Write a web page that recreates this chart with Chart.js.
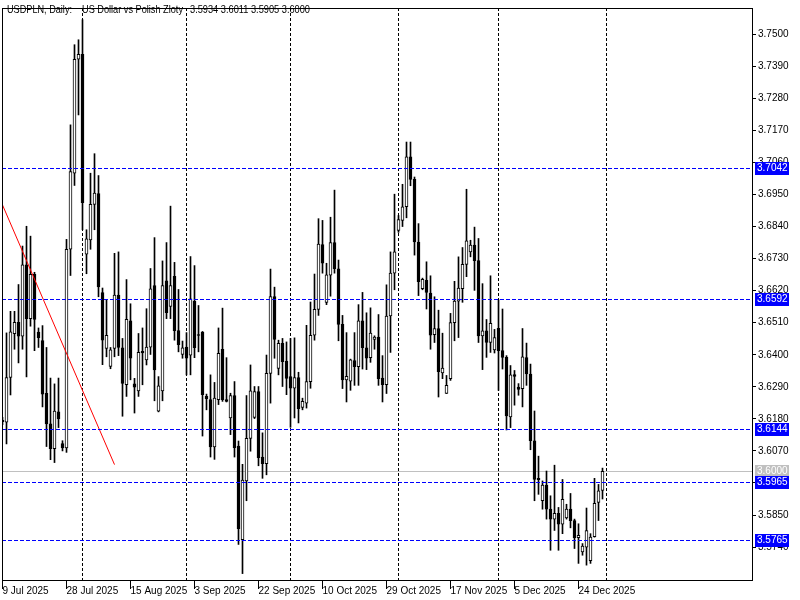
<!DOCTYPE html>
<html>
<head>
<meta charset="utf-8">
<script src="https://cdn.jsdelivr.net/npm/chart.js@4.4.1/dist/chart.umd.min.js"></script>
<style>
  html, body { margin: 0; padding: 0; background: #fff; }
</style>
</head>
<body>
<canvas id="usdplnChart" width="800" height="600"></canvas>
<script>
// Daily bars, index 0 = 9 Jul 2025 ... 150 = 31 Dec 2025
const opens = [
  3.6175, 3.6169, 3.6322, 3.6472, 3.6511, 3.6464, 3.6709, 3.6524, 3.6676, 3.6478,
  3.6449, 3.6268, 3.6163, 3.6078, 3.6204, 3.6095, 3.6080, 3.6762, 3.7023, 3.7414,
  3.7431, 3.6745, 3.6794, 3.6916, 3.6953, 3.6613, 3.6422, 3.6360, 3.6422, 3.6605,
  3.6424, 3.6297, 3.6516, 3.6300, 3.6276, 3.6412, 3.6382, 3.6426, 3.6637, 3.6206,
  3.6276, 3.6654, 3.6566, 3.6669, 3.6483, 3.6401, 3.6426, 3.6399, 3.6583, 3.6468,
  3.6478, 3.6257, 3.6246, 3.6084, 3.6246, 3.6419, 3.6246, 3.6183, 3.6260, 3.6087,
  3.5765, 3.5967, 3.6113, 3.6185, 3.6274, 3.6049, 3.6026, 3.6336, 3.6600, 3.6353,
  3.6439, 3.6378, 3.6325, 3.6285, 3.6322, 3.6219, 3.6234, 3.6308, 3.6467, 3.6556,
  3.6778, 3.6580, 3.6673, 3.6785, 3.6695, 3.6504, 3.6314, 3.6309, 3.6380, 3.6359,
  3.6516, 3.6424, 3.6390, 3.6453, 3.6461, 3.6320, 3.6297, 3.6533, 3.6680, 3.6827,
  3.6861, 3.6908, 3.7079, 3.7002, 3.6787, 3.6627, 3.6655, 3.6612, 3.6469, 3.6490,
  3.6338, 3.6267, 3.6318, 3.6510, 3.6584, 3.6627, 3.6710, 3.6753, 3.6776, 3.6723,
  3.6465, 3.6482, 3.6442, 3.6417, 3.6491, 3.6414, 3.6391, 3.6187, 3.6332, 3.6289,
  3.6284, 3.6390, 3.6334, 3.6105, 3.5976, 3.5899, 3.5953, 3.5870, 3.5836, 3.5856,
  3.5819, 3.5840, 3.5870, 3.5831, 3.5772, 3.5723, 3.5740, 3.5693, 3.5776, 3.5893,
  3.5934
];
const highs = [
  3.6185, 3.6475, 3.6549, 3.6549, 3.6641, 3.6773, 3.6841, 3.6807, 3.6683, 3.6492,
  3.6500, 3.6425, 3.6320, 3.6300, 3.6320, 3.6105, 3.6796, 3.7189, 3.7464, 3.7481,
  3.7550, 3.6829, 3.7023, 3.7090, 3.7015, 3.6629, 3.6588, 3.6425, 3.6748, 3.6753,
  3.6456, 3.6658, 3.6575, 3.6319, 3.6473, 3.6492, 3.6558, 3.6696, 3.6802, 3.6325,
  3.6722, 3.6785, 3.6910, 3.6717, 3.6624, 3.6447, 3.6476, 3.6737, 3.6706, 3.6569,
  3.6480, 3.6265, 3.6331, 3.6305, 3.6492, 3.6560, 3.6390, 3.6268, 3.6308, 3.6104,
  3.6024, 3.6260, 3.6365, 3.6291, 3.6291, 3.6132, 3.6399, 3.6694, 3.6632, 3.6450,
  3.6456, 3.6444, 3.6456, 3.6458, 3.6340, 3.6251, 3.6501, 3.6581, 3.6677, 3.6867,
  3.6861, 3.6714, 3.6872, 3.6965, 3.6725, 3.6535, 3.6476, 3.6385, 3.6476, 3.6572,
  3.6614, 3.6544, 3.6561, 3.6465, 3.6538, 3.6397, 3.6640, 3.6753, 3.6951, 3.6878,
  3.6985, 3.7130, 3.7130, 3.7010, 3.6850, 3.6663, 3.6719, 3.6671, 3.6599, 3.6553,
  3.6474, 3.6329, 3.6542, 3.6652, 3.6736, 3.6768, 3.6968, 3.6793, 3.6838, 3.6799,
  3.6644, 3.6521, 3.6671, 3.6487, 3.6589, 3.6557, 3.6397, 3.6363, 3.6346, 3.6301,
  3.6490, 3.6440, 3.6368, 3.6207, 3.6052, 3.5967, 3.6001, 3.5916, 3.6021, 3.5876,
  3.5972, 3.5887, 3.5924, 3.5836, 3.5820, 3.5752, 3.5874, 3.5786, 3.5976, 3.5955,
  3.6011
];
const lows = [
  3.6160, 3.6094, 3.6262, 3.6419, 3.6372, 3.6419, 3.6324, 3.6498, 3.6414, 3.6425,
  3.6221, 3.6085, 3.6040, 3.6030, 3.6150, 3.6070, 3.6065, 3.6672, 3.6981, 3.7223,
  3.6829, 3.6678, 3.6762, 3.6829, 3.6599, 3.6366, 3.6393, 3.6352, 3.6393, 3.6397,
  3.6189, 3.6257, 3.6314, 3.6200, 3.6257, 3.6297, 3.6365, 3.6401, 3.6242, 3.6204,
  3.6242, 3.6524, 3.6524, 3.6450, 3.6410, 3.6388, 3.6331, 3.6331, 3.6390, 3.6410,
  3.6121, 3.6211, 3.6049, 3.6041, 3.6229, 3.6240, 3.6238, 3.6126, 3.6049, 3.5749,
  3.5649, 3.5899, 3.6069, 3.6181, 3.6019, 3.5976, 3.5988, 3.6234, 3.6388, 3.6331,
  3.6291, 3.6263, 3.6151, 3.6183, 3.6166, 3.6211, 3.6217, 3.6285, 3.6450, 3.6535,
  3.6680, 3.6572, 3.6601, 3.6680, 3.6448, 3.6284, 3.6238, 3.6278, 3.6295, 3.6295,
  3.6351, 3.6349, 3.6374, 3.6419, 3.6295, 3.6238, 3.6267, 3.6408, 3.6623, 3.6820,
  3.6840, 3.6870, 3.6980, 3.6742, 3.6603, 3.6623, 3.6557, 3.6419, 3.6442, 3.6255,
  3.6318, 3.6267, 3.6312, 3.6448, 3.6459, 3.6580, 3.6668, 3.6736, 3.6621, 3.6442,
  3.6349, 3.6391, 3.6408, 3.6406, 3.6278, 3.6351, 3.6142, 3.6150, 3.6227, 3.6261,
  3.6221, 3.6295, 3.6074, 3.5899, 3.5921, 3.5870, 3.5836, 3.5729, 3.5797, 3.5729,
  3.5786, 3.5836, 3.5806, 3.5735, 3.5684, 3.5712, 3.5678, 3.5684, 3.5774, 3.5831,
  3.5905
];
const closes = [
  3.6170, 3.6322, 3.6479, 3.6511, 3.6464, 3.6709, 3.6524, 3.6676, 3.6521, 3.6459,
  3.6265, 3.6163, 3.6078, 3.6207, 3.6180, 3.6080, 3.6762, 3.7029, 3.7414, 3.7431,
  3.6922, 3.6798, 3.6916, 3.6955, 3.6633, 3.6450, 3.6467, 3.6417, 3.6605, 3.6425,
  3.6302, 3.6522, 3.6388, 3.6289, 3.6408, 3.6406, 3.6426, 3.6626, 3.6348, 3.6293,
  3.6637, 3.6544, 3.6637, 3.6483, 3.6435, 3.6424, 3.6388, 3.6592, 3.6424, 3.6466,
  3.6263, 3.6249, 3.6084, 3.6251, 3.6405, 3.6246, 3.6240, 3.6260, 3.6081, 3.5803,
  3.5970, 3.6113, 3.6276, 3.6274, 3.6047, 3.6026, 3.6336, 3.6600, 3.6453, 3.6439,
  3.6376, 3.6319, 3.6285, 3.6322, 3.6215, 3.6240, 3.6308, 3.6467, 3.6556, 3.6780,
  3.6714, 3.6674, 3.6785, 3.6695, 3.6504, 3.6314, 3.6326, 3.6383, 3.6359, 3.6516,
  3.6424, 3.6388, 3.6474, 3.6461, 3.6318, 3.6297, 3.6533, 3.6680, 3.6753, 3.6864,
  3.6908, 3.7079, 3.7002, 3.6787, 3.6651, 3.6659, 3.6614, 3.6467, 3.6490, 3.6342,
  3.6354, 3.6295, 3.6510, 3.6584, 3.6629, 3.6710, 3.6791, 3.6776, 3.6723, 3.6465,
  3.6482, 3.6442, 3.6508, 3.6459, 3.6414, 3.6391, 3.6190, 3.6331, 3.6326, 3.6281,
  3.6393, 3.6334, 3.6105, 3.5972, 3.5971, 3.5953, 3.5870, 3.5836, 3.5856, 3.5819,
  3.5904, 3.5870, 3.5831, 3.5772, 3.5780, 3.5743, 3.5797, 3.5774, 3.5890, 3.5933,
  3.6000
];

// price axis
const yTicks = [3.7500, 3.7390, 3.7280, 3.7170, 3.7060, 3.6950, 3.6840, 3.6730, 3.6620,
                3.6510, 3.6400, 3.6290, 3.6180, 3.6070, 3.5960, 3.5850, 3.5740];
const yMin = 3.5627;
const yMax = 3.7590;

// time axis
const xTickIdx = [0, 16, 32, 48, 64, 80, 96, 112, 128, 144];
const xTickLabels = ['9 Jul 2025', '28 Jul 2025', '15 Aug 2025', '3 Sep 2025', '22 Sep 2025',
                     '10 Oct 2025', '29 Oct 2025', '17 Nov 2025', '5 Dec 2025', '24 Dec 2025'];
const monthStarts = [20, 46, 72, 99, 124, 151]; // 1 Aug, 1 Sep, 1 Oct, 2 Nov, 1 Dec, 1 Jan

// drawn objects
const levels = [3.7042, 3.6592, 3.6144, 3.5965, 3.5765];
const bidLevel = 3.6000;
const trendX = [0, 28];
const trendY = [3.6914, 3.6023];

const FONT = '"Liberation Sans", Arial, sans-serif';
const BLUE = '#0000ff';
const GREY = '#c0c0c0';

const idx = opens.map((_, i) => i);

// squeeze a text run into the width it takes in the terminal font
function fitText(ctx, str, x, y, w) {
    const m = ctx.measureText(str).width;
    const k = Math.min(1, w / m);
    ctx.save();
    ctx.translate(x, y);
    ctx.scale(k, 1);
    ctx.fillText(str, 0, 0);
    ctx.restore();
}

const mtOverlay = {
    id: 'mtOverlay',
    beforeDatasetsDraw(chart) {
        const { ctx, chartArea: a, scales: { x, y } } = chart;
        ctx.save();
        ctx.lineWidth = 1;
        // month separators
        ctx.strokeStyle = '#000';
        ctx.setLineDash([3, 2]);
        monthStarts.forEach(m => {
            const px = Math.round(x.getPixelForValue(m) - 0.5) + 0.5;
            ctx.beginPath();
            ctx.moveTo(px, a.top);
            ctx.lineTo(px, a.bottom);
            ctx.stroke();
        });
        // bid line
        ctx.setLineDash([]);
        ctx.strokeStyle = GREY;
        const by = Math.round(y.getPixelForValue(bidLevel)) + 0.5;
        ctx.beginPath();
        ctx.moveTo(a.left, by);
        ctx.lineTo(a.right, by);
        ctx.stroke();
        ctx.restore();
    },
    afterDatasetsDraw(chart) {
        const { ctx, chartArea: a, scales: { y } } = chart;
        ctx.save();
        ctx.lineWidth = 1;
        ctx.strokeStyle = BLUE;
        ctx.setLineDash([4, 2]);
        levels.forEach(v => {
            const py = Math.round(y.getPixelForValue(v)) + 0.5;
            ctx.beginPath();
            ctx.moveTo(a.left, py);
            ctx.lineTo(a.right, py);
            ctx.stroke();
        });
        ctx.restore();
    },
    afterDraw(chart) {
        const { ctx, chartArea: a, scales: { y } } = chart;
        ctx.save();
        // frame
        ctx.strokeStyle = '#000';
        ctx.lineWidth = 1;
        ctx.strokeRect(a.left + 0.5, a.top + 0.5, a.right - a.left, a.bottom - a.top);

        // price boxes on the axis
        ctx.font = '10px ' + FONT;
        ctx.textBaseline = 'middle';
        const box = (v, col) => {
            const py = Math.round(y.getPixelForValue(v));
            ctx.fillStyle = col;
            ctx.fillRect(a.right + 3, py - 6, 34, 13);
            ctx.fillStyle = '#fff';
            ctx.fillText(v.toFixed(4), a.right + 5, py + 0.5);
        };
        box(bidLevel, GREY);
        levels.forEach(v => box(v, BLUE));

        // header
        const last = opens.length - 1;
        const ohlc = [opens[last], highs[last], lows[last], closes[last]].map(v => v.toFixed(4)).join(' ');
        ctx.fillStyle = '#000';
        ctx.font = '11px ' + FONT;
        fitText(ctx, 'USDPLN, Daily:', 7, 10, 65);
        fitText(ctx, 'US Dollar vs Polish Zloty', 82, 10, 101);
        fitText(ctx, ohlc, 190, 10, 120);
        ctx.restore();
    }
};

const chart = new Chart(document.getElementById('usdplnChart'), {
    type: 'bar',
    data: {
        datasets: [
            {
                type: 'line',
                data: trendX.map((v, i) => ({ x: v, y: trendY[i] })),
                borderColor: '#ff0000',
                borderWidth: 1,
                pointRadius: 0,
                fill: false,
                order: 0
            },
            {
                label: 'body',
                data: idx.map(i => ({ x: i, y: [opens[i], closes[i]] })),
                backgroundColor: idx.map(i => closes[i] >= opens[i] ? '#ffffff' : '#000000'),
                borderColor: '#000000',
                borderWidth: 1,
                borderSkipped: false,
                barThickness: 3,
                minBarLength: 1,
                grouped: false,
                order: 1
            },
            {
                label: 'wick',
                data: idx.map(i => ({ x: i, y: [lows[i], highs[i]] })),
                backgroundColor: '#000000',
                borderWidth: 0,
                barThickness: 1,
                minBarLength: 1,
                grouped: false,
                order: 2
            }
        ]
    },
    options: {
        responsive: false,
        animation: false,
        layout: { padding: { left: 2, top: 2, right: 0, bottom: 0 } },
        plugins: {
            legend: { display: false },
            tooltip: { enabled: false }
        },
        scales: {
            x: {
                type: 'linear',
                offset: false,
                min: -0.125,
                max: 187.375,
                afterBuildTicks: s => { s.ticks = xTickIdx.map(v => ({ value: v })); },
                afterFit: s => { s.height = 20; },
                ticks: {
                    callback: (v, i) => xTickLabels[i],
                    align: 'start',
                    autoSkip: false,
                    maxRotation: 0,
                    minRotation: 0,
                    padding: -4,
                    color: '#000',
                    font: { family: FONT, size: 10 }
                },
                grid: { offset: false, drawOnChartArea: false, drawTicks: true, tickLength: 9, color: '#000' },
                border: { display: false }
            },
            y: {
                position: 'right',
                min: yMin,
                max: yMax,
                afterBuildTicks: s => { s.ticks = yTicks.map(v => ({ value: v })); },
                afterFit: s => { s.width = 48; },
                ticks: {
                    callback: v => v.toFixed(4),
                    autoSkip: false,
                    padding: 2,
                    color: '#000',
                    font: { family: FONT, size: 10 }
                },
                grid: { drawOnChartArea: false, drawTicks: true, tickLength: 4, color: '#000' },
                border: { display: false }
            }
        }
    },
    plugins: [mtOverlay]
});
</script>
</body>
</html>
